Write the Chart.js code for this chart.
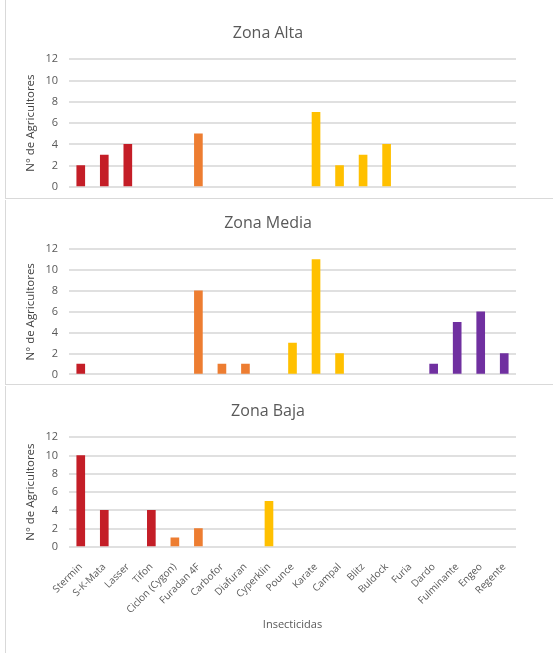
<!DOCTYPE html>
<html>
<head>
<meta charset="utf-8">
<script src="https://cdn.jsdelivr.net/npm/chart.js@4"></script>
<style>
  body { margin: 0; background: #fff; width: 553px; height: 653px; overflow: hidden; position: relative; font-family: "Open Sans", sans-serif; }
  .panel { position: absolute; left: 5px; width: 560px; border-left: 1px solid #d9d9d9; border-bottom: 1px solid #d9d9d9; }
  canvas { position: absolute; left: 0; top: 0; }
</style>
</head>
<body>
<div class="panel" style="top:0; height:198px;"><canvas id="zonaAlta" width="524" height="198"></canvas></div>
<div class="panel" style="top:200px; height:184px;"><canvas id="zonaMedia" width="524" height="184"></canvas></div>
<div class="panel" style="top:386px; height:280px;"><canvas id="zonaBaja" width="524" height="267"></canvas></div>
<script>
// Datos de las tres zonas
var insecticidas = ["Stermin", "S-K-Mata", "Lasser", "Tifon", "Ciclon (Cygon)", "Furadan 4F", "Carbofor", "Diafuran", "Cyperklin", "Pounce", "Karate", "Campal", "Blitz", "Buldock", "Furia", "Dardo", "Fulminante", "Engeo", "Regente"];
var zonaAlta  = [2, 3, 4, 0, 0, 5, 0, 0, 0, 0, 7, 2, 3, 4, 0, 0, 0, 0, 0];
var zonaMedia = [1, 0, 0, 0, 0, 8, 1, 1, 0, 3, 11, 2, 0, 0, 0, 1, 5, 6, 2];
var zonaBaja  = [10, 4, 0, 4, 1, 2, 0, 0, 5, 0, 0, 0, 0, 0, 0, 0, 0, 0, 0];
var ticksY = [0, 2, 4, 6, 8, 10, 12];

// colores por grupo de insecticida
var coloresBarra = ["#c41e27", "#c41e27", "#c41e27", "#c41e27",
    "#ed7d31", "#ed7d31", "#ed7d31", "#ed7d31",
    "#ffc000", "#ffc000", "#ffc000", "#ffc000", "#ffc000", "#ffc000",
    "#7030a0", "#7030a0", "#7030a0", "#7030a0", "#7030a0"];

var gris = "#595959";

function crearGrafico(id, titulo, valores, tituloPad, mostrarX, padAbajo) {
    new Chart(id, {
        type: "bar",
        data: {
            labels: insecticidas,
            datasets: [{
                data: valores,
                // sin barra cuando el valor es 0
                backgroundColor: function (ctx) {
                    return ctx.raw ? coloresBarra[ctx.dataIndex] : "rgba(0,0,0,0)";
                },
                barThickness: 8
            }]
        },
        options: {
            responsive: false,
            animation: false,
            layout: { padding: { left: 14, right: 14, top: 0, bottom: padAbajo } },
            plugins: {
                legend: { display: false },
                tooltip: { enabled: false },
                title: {
                    display: true,
                    text: titulo,
                    color: gris,
                    font: { family: "Open Sans", size: 16, weight: "normal" },
                    padding: tituloPad
                }
            },
            scales: {
                x: {
                    grid: { display: false },
                    border: { display: false },
                    ticks: {
                        display: mostrarX,
                        autoSkip: false,
                        minRotation: 45,
                        maxRotation: 45,
                        padding: 6,
                        color: gris,
                        font: { family: "Open Sans", size: 10 }
                    },
                    title: {
                        display: mostrarX,
                        text: "Insecticidas",
                        color: gris,
                        font: { family: "Open Sans", size: 11 },
                        padding: { top: 4, bottom: 6 }
                    },
                    afterFit: function (eje) { eje.height = mostrarX ? 90 : 0; }
                },
                y: {
                    min: 0,
                    max: 12,
                    afterBuildTicks: function (eje) { eje.ticks = ticksY.map(function (v) { return { value: v }; }); },
                    grid: { color: "#e0e0e0", lineWidth: 2, tickLength: 8, tickColor: "rgba(0,0,0,0)" },
                    border: { display: false },
                    ticks: {
                        padding: 3,
                        color: gris,
                        font: { family: "Open Sans", size: 11 }
                    },
                    title: {
                        display: true,
                        text: "N° de Agricultores",
                        color: "#404040",
                        font: { family: "Open Sans", size: 11.5 }
                    },
                    afterFit: function (eje) { eje.width = 49; }
                }
            }
        }
    });
}

document.addEventListener("DOMContentLoaded", function () {
    crearGrafico("zonaAlta", "Zona Alta", zonaAlta, { top: 24, bottom: 16 }, false, 11);
    crearGrafico("zonaMedia", "Zona Media", zonaMedia, { top: 14, bottom: 16 }, false, 9);
    crearGrafico("zonaBaja", "Zona Baja", zonaBaja, { top: 16, bottom: 16 }, true, 16);
});
</script>
</body>
</html>
